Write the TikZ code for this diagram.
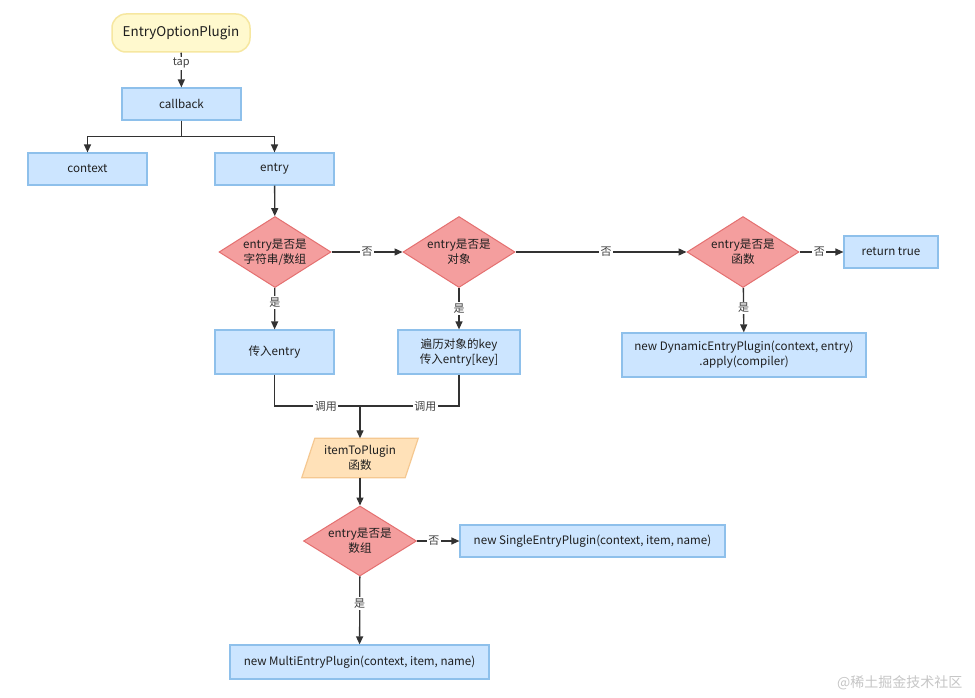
\documentclass[tikz,border=0pt]{standalone}
\usepackage{fontspec}
\setmainfont{Noto Sans CJK SC}
\usetikzlibrary{shapes.geometric,arrows.meta}
\definecolor{boxfill}{RGB}{204,229,255}
\definecolor{boxline}{RGB}{142,192,235}
\definecolor{dfill}{RGB}{244,158,158}
\definecolor{dline}{RGB}{228,112,112}
\definecolor{yfill}{RGB}{255,249,206}
\definecolor{yline}{RGB}{246,231,160}
\definecolor{ofill}{RGB}{255,225,184}
\definecolor{oline}{RGB}{245,200,145}
\definecolor{ink}{RGB}{30,30,30}
\definecolor{edge}{RGB}{50,50,50}
\tikzset{
  bx/.style={draw=boxline, fill=boxfill, line width=1.2pt, align=center, text=ink,
    font=\fontsize{11.6}{15}\selectfont, inner sep=0pt},
  dm/.style={diamond, draw=dline, fill=dfill, line width=1pt, align=center, text=ink,
    font=\fontsize{11.6}{15}\selectfont, inner sep=0pt, aspect=1.58,
    minimum width=112pt, minimum height=71pt},
  arr/.style={draw=edge, line width=1.3pt, -{Triangle[length=8pt,width=7pt]}},
  ln/.style={draw=edge, line width=1.3pt},
  lbl/.style={fill=white, inner sep=1.5pt, text=ink!85, font=\fontsize{11}{13}\selectfont},
}
\begin{document}
\begin{tikzpicture}[x=1pt,y=-1pt]
\useasboundingbox (0,0) rectangle (975,698);
\fill[white] (0,0) rectangle (975,698);

\node[draw=yline, fill=yfill, line width=1.5pt, rounded corners=14pt, minimum width=138pt,
  minimum height=38pt, text=ink, font=\fontsize{13.4}{16}\selectfont, inner sep=0pt]
  (eop) at (181,33) {EntryOptionPlugin};
\node[bx, minimum width=119pt, minimum height=32pt] (cb) at (181.5,104) {callback};
\node[bx, minimum width=119pt, minimum height=32pt] (ctx) at (87.5,169) {context};
\node[bx, minimum width=119pt, minimum height=32pt] (ent) at (274.5,169) {entry};

\node[dm] (d1) at (275,252) {entry是否是\\字符串/数组};
\node[dm] (d2) at (459,252) {entry是否是\\对象};
\node[dm] (d3) at (743,252) {entry是否是\\函数};
\node[bx, minimum width=94pt, minimum height=32pt] (rt) at (891,252) {return true};

\node[bx, minimum width=119pt, minimum height=44pt] (b1) at (274.5,352) {传入entry};
\node[bx, minimum width=122pt, minimum height=44pt] (b2) at (459,352) {遍历对象的key\\传入entry[key]};
\node[bx, minimum width=244pt, minimum height=44pt] (dyn) at (744,355)
  {new DynamicEntryPlugin(context, entry)\\.apply(compiler)};

\coordinate (m) at (360,406);
\node[minimum width=103pt, minimum height=39pt, inner sep=0pt] (itp) at (360,458) {};
\draw[draw=oline, fill=ofill, line width=1.2pt]
  ([xshift=-6.5pt]itp.south west) -- ([xshift=6.5pt]itp.north west)
  -- ([xshift=6.5pt]itp.north east) -- ([xshift=-6.5pt]itp.south east) -- cycle;
\node[align=center, text=ink, font=\fontsize{11.6}{15}\selectfont] (itpt) at (itp.center) {itemToPlugin\\函数};

\node[dm, minimum width=113pt, minimum height=70pt] (d4) at (360,541) {entry是否是\\数组};
\node[bx, minimum width=265pt, minimum height=32pt] (seb) at (592.5,541)
  {new SingleEntryPlugin(context, item, name)};
\node[bx, minimum width=259pt, minimum height=34pt] (meb) at (359.5,662)
  {new MultiEntryPlugin(context, item, name)};

% connectors
\draw[arr] (eop) -- node[lbl, pos=0.3]{tap} (cb);
\draw[arr] (cb.south) -- ++(0,16) -| (ctx.north);
\draw[arr] (cb.south) -- ++(0,16) -| (ent.north);
\draw[arr] (ent) -- (d1);
\draw[arr] (d1) -- node[lbl]{否} (d2);
\draw[arr] (d2) -- node[lbl, pos=0.53]{否} (d3);
\draw[arr] (d3) -- node[lbl, pos=0.45]{否} (rt);
\draw[arr] (d1) -- node[lbl, pos=0.35]{是} (b1);
\draw[arr] (d2) -- node[lbl, pos=0.5]{是} (b2);
\draw[arr] (d3) -- node[lbl, pos=0.45]{是} (dyn);
\draw[ln] (b1.south) |- node[lbl, pos=0.8]{调用} (m);
\draw[ln] (b2.south) |- node[lbl, pos=0.67]{调用} (m);
\draw[arr] (m) -- (itp.north);
\draw[arr] (itp) -- (d4);
\draw[arr] (d4) -- node[lbl, pos=0.4]{否} (seb);
\draw[arr] (d4) -- node[lbl, pos=0.4]{是} (meb);

\node[text=gray!45, font=\fontsize{14}{16}\selectfont, anchor=east] (wm) at (966,683) {@稀土掘金技术社区};
\end{tikzpicture}
\end{document}
